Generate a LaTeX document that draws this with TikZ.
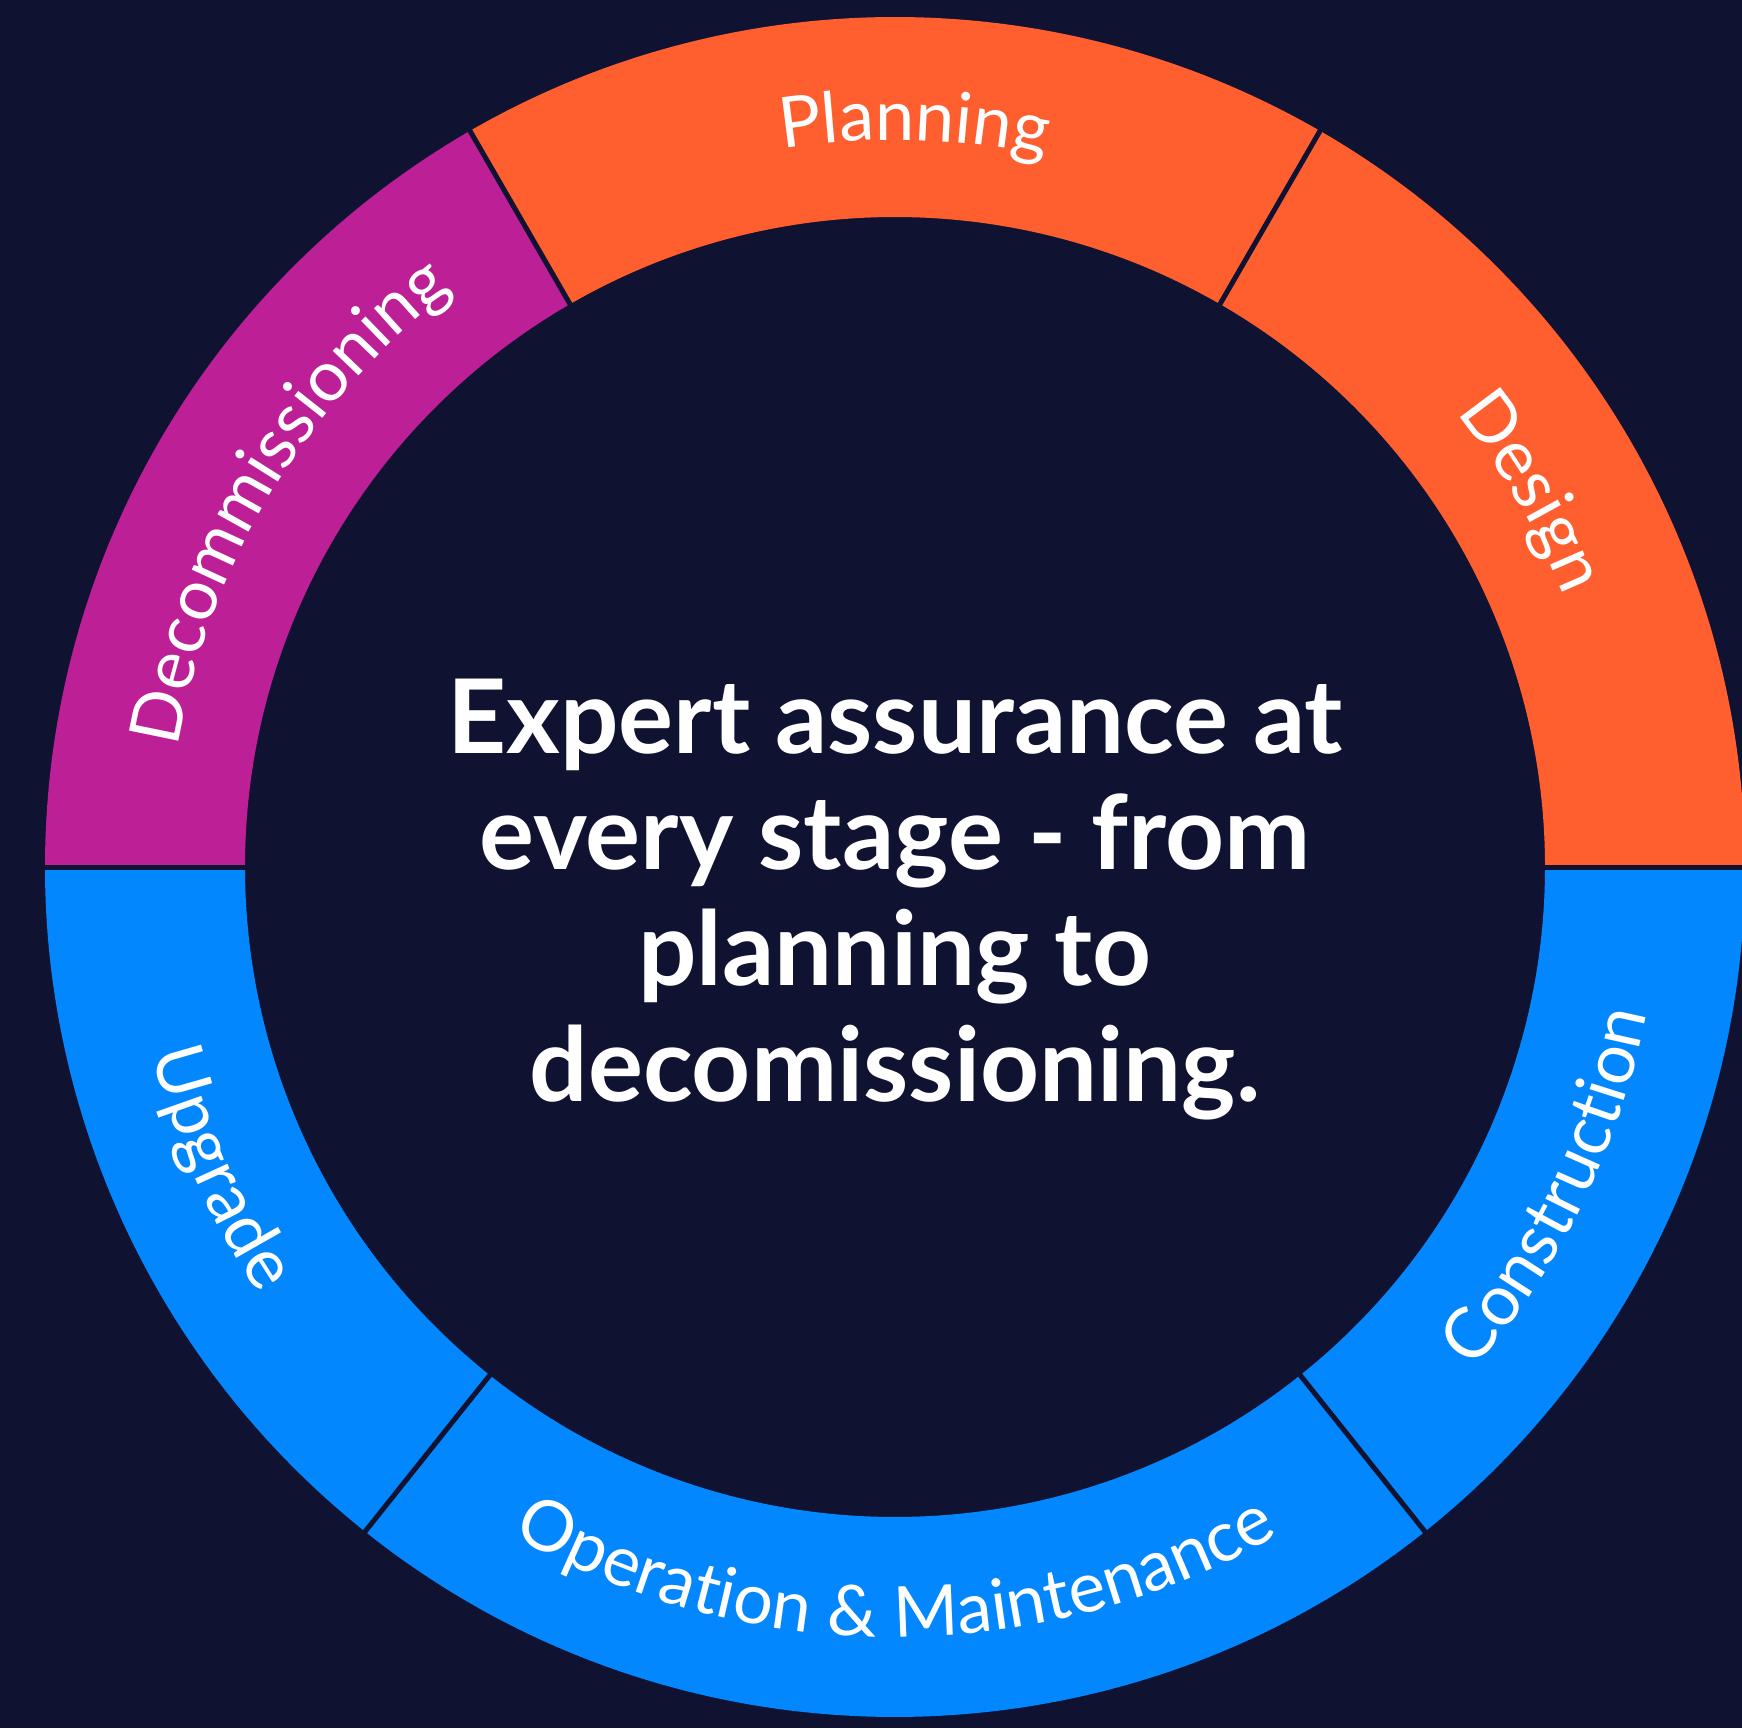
\documentclass[tikz,border=0pt]{standalone}
\usepackage{fontspec}
\setmainfont{Lato}
\usetikzlibrary{decorations.text}

\definecolor{navy}{HTML}{101232}
\definecolor{stageorange}{HTML}{FF5E2E}
\definecolor{stagemagenta}{HTML}{BD1F96}
\definecolor{stageblue}{HTML}{0387FF}
\newcommand{\stagefont}{\color{white}\fontsize{20}{24}\selectfont}

\begin{document}
\begin{tikzpicture}[
    divider/.style={draw=navy, line width=0.05cm},
    toplabel/.style={decorate, decoration={text along path, text align=center, text={|\stagefont|#1}}},
    bottomlabel/.style={decorate, decoration={text along path, text align=center, text={|\stagefont|#1}}},
    claim/.style={align=center, text=white, font=\bfseries\fontsize{29.3}{33}\selectfont}]
  \fill[navy, use as bounding box] (-8.95,-8.61) rectangle (8.47,8.67);
  \foreach \a/\b/\c in {0/60/stageorange, 60/120/stageorange, 120/180/stagemagenta,
      180/231.43/stageblue, 231.43/308.57/stageblue, 308.57/360/stageblue}
    \fill[\c] (\a:6.5) arc[start angle=\a, end angle=\b, radius=6.5]
      -- (\b:8.5) arc[start angle=\b, end angle=\a, radius=8.5] -- cycle;
  \foreach \a in {0,60,120,180,231.43,308.57}
    \draw[divider] (\a:6.4) -- (\a:8.6);
  \path[toplabel=Design] (70.5:7.22) arc[start angle=70.5, end angle=-9.5, radius=7.22];
  \path[toplabel=Planning] (128.5:7.27) arc[start angle=128.5, end angle=48.5, radius=7.27];
  \path[toplabel=Decommissioning] (189:7.27) arc[start angle=189, end angle=109, radius=7.27];
  \path[bottomlabel=Upgrade] (159:7.66) arc[start angle=159, end angle=249, radius=7.66];
  \path[bottomlabel={Operation {\&} Maintenance}] (225:7.7) arc[start angle=225, end angle=315, radius=7.7];
  \path[bottomlabel=Construction] (289:7.66) arc[start angle=289, end angle=379, radius=7.66];
  \node[claim] (claim) at (0,-0.33) {Expert assurance at\\every stage - from\\planning to\\decomissioning.};
\end{tikzpicture}
\end{document}
